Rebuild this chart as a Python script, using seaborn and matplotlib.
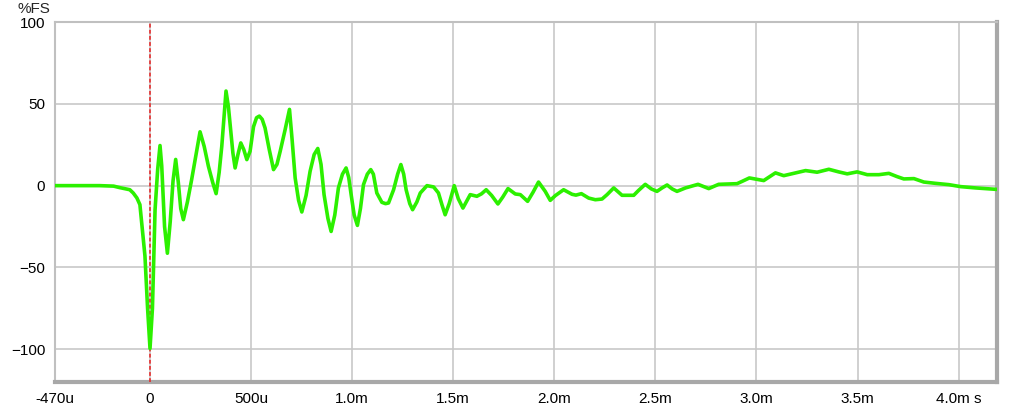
import matplotlib
matplotlib.use("Agg")
import matplotlib.pyplot as plt
import seaborn as sns

# ==========================
# Data (time in ms, level in %FS)
# ==========================

time_ms = [
    -0.47, -0.35, -0.25, -0.18, -0.15, -0.10, -0.083, -0.065, -0.05, -0.025,
    -0.012, 0.0, 0.012, 0.025, 0.038, 0.0495, 0.058, 0.072, 0.086, 0.100,
    0.114, 0.127, 0.140, 0.152, 0.165, 0.185, 0.206, 0.228, 0.2475, 0.268,
    0.289, 0.310, 0.327, 0.342, 0.355, 0.366, 0.376, 0.388, 0.399, 0.410,
    0.421, 0.435, 0.449, 0.464, 0.479, 0.495, 0.512, 0.527, 0.541, 0.555,
    0.569, 0.590, 0.611, 0.628, 0.644, 0.668, 0.690, 0.703, 0.718, 0.735,
    0.751, 0.772, 0.792, 0.812, 0.830, 0.846, 0.861, 0.880, 0.896, 0.914,
    0.932, 0.952, 0.970, 0.983, 0.995, 1.010, 1.026, 1.041, 1.056, 1.075,
    1.092, 1.105, 1.122, 1.147, 1.165, 1.180, 1.205, 1.225, 1.241, 1.255,
    1.267, 1.285, 1.299, 1.320, 1.337, 1.370, 1.403, 1.427, 1.445, 1.460,
    1.480, 1.505, 1.525, 1.548, 1.584, 1.617, 1.640, 1.663, 1.690, 1.721,
    1.745, 1.771, 1.807, 1.832, 1.868, 1.895, 1.922, 1.955, 1.980, 2.005,
    2.046, 2.088, 2.107, 2.134, 2.170, 2.203, 2.236, 2.261, 2.294, 2.335,
    2.393, 2.417, 2.450, 2.480, 2.508, 2.533, 2.558, 2.583, 2.607, 2.649,
    2.711, 2.764, 2.813, 2.904, 2.929, 2.965, 2.995, 3.036, 3.094, 3.135,
    3.193, 3.243, 3.300, 3.358, 3.407, 3.449, 3.498, 3.548, 3.606, 3.655,
    3.696, 3.729, 3.779, 3.828, 3.886, 3.952, 4.010, 4.084, 4.19,
]

level_pct = [
    0.0, 0.0, 0.0, -0.3, -1.2, -2.5, -4.5, -7.5, -11.6, -43.0,
    -75.0, -99.5, -75.0, -14.7, 10.0, 24.5, 12.0, -25.0, -41.3, -22.0,
    3.0, 16.0, 2.0, -14.0, -20.8, -10.0, 3.7, 19.0, 32.9, 24.0,
    11.8, 2.0, -4.9, 8.0, 24.0, 42.0, 57.8, 48.0, 34.3, 20.0,
    10.8, 19.0, 26.1, 22.0, 15.9, 21.0, 36.0, 41.5, 42.5, 40.5,
    35.3, 22.0, 9.8, 13.0, 21.0, 34.0, 46.6, 28.0, 4.7, -9.0,
    -16.1, -6.0, 8.8, 19.0, 22.7, 13.0, -5.5, -20.0, -28.0, -18.0,
    -1.4, 7.0, 10.8, 5.0, -5.5, -18.0, -24.3, -14.0, 0.6, 7.0,
    9.8, 7.0, -4.5, -10.2, -11.0, -10.6, -2.5, 7.0, 12.9, 7.0,
    -2.5, -11.0, -14.7, -10.0, -4.5, 0.0, -0.8, -4.5, -12.0, -17.8,
    -11.0, 0.0, -8.0, -13.7, -5.5, -6.5, -5.0, -2.5, -6.0, -11.2,
    -7.0, -1.8, -5.1, -5.5, -9.6, -4.0, 2.2, -3.5, -9.0, -6.1,
    -2.5, -5.3, -5.8, -4.9, -7.6, -8.6, -8.2, -5.5, -1.4, -5.9,
    -5.9, -2.9, 0.8, -2.0, -3.5, -1.4, 0.4, -2.0, -3.5, -1.4,
    0.8, -1.8, 0.8, 1.2, 2.6, 4.7, 4.0, 3.1, 7.8, 6.1,
    7.8, 9.2, 8.2, 10.0, 8.4, 7.2, 8.4, 6.7, 6.7, 7.5,
    5.5, 4.1, 4.3, 2.2, 1.4, 0.6, -0.6, -1.4, -2.3,
]

x_ticks = [-0.47, 0.0, 0.5, 1.0, 1.5, 2.0, 2.5, 3.0, 3.5, 4.0]
x_labels = ["-470u", "0", "500u", "1.0m", "1.5m", "2.0m", "2.5m", "3.0m", "3.5m", "4.0m s"]
y_ticks = [-100, -50, 0, 50, 100]

# ==========================
# Plot
# ==========================

sns.set_style("white")
plt.rcParams["font.family"] = ["Liberation Sans", "DejaVu Sans"]

fig = plt.figure(figsize=(10.24, 4.12), dpi=100)
ax = fig.add_axes([55 / 1024, 1 - 382 / 412, 942 / 1024, 360 / 412])

ax.axvline(0, color="#e82020", lw=1.1, ls=(0, (2.5, 1.5)), zorder=3)

sns.lineplot(
    x=time_ms,
    y=level_pct,
    ax=ax,
    color="#2cf000",
    lw=2.6,
    zorder=4,
    solid_joinstyle="round",
    solid_capstyle="round",
)

ax.set_xlim(-0.47, 4.19)
ax.set_ylim(-120, 100)
ax.set_xticks(x_ticks)
ax.set_xticklabels(x_labels)
ax.set_yticks(y_ticks)
ax.grid(True, color="#c8c8c8", lw=1.2)
ax.tick_params(length=0, labelsize=11, colors="black", pad=7)
ax.set_xlabel("")
ax.set_ylabel("")

for side in ["left", "top"]:
    ax.spines[side].set_color("#c0c0c0")
    ax.spines[side].set_linewidth(1.5)
for side in ["right", "bottom"]:
    ax.spines[side].set_color("#a8a8a8")
    ax.spines[side].set_linewidth(3)

fig.text(17 / 1024, 1 - 9 / 412, "%FS", fontsize=11, va="center", ha="left")

plt.savefig("out.png", dpi=100)
plt.close()
